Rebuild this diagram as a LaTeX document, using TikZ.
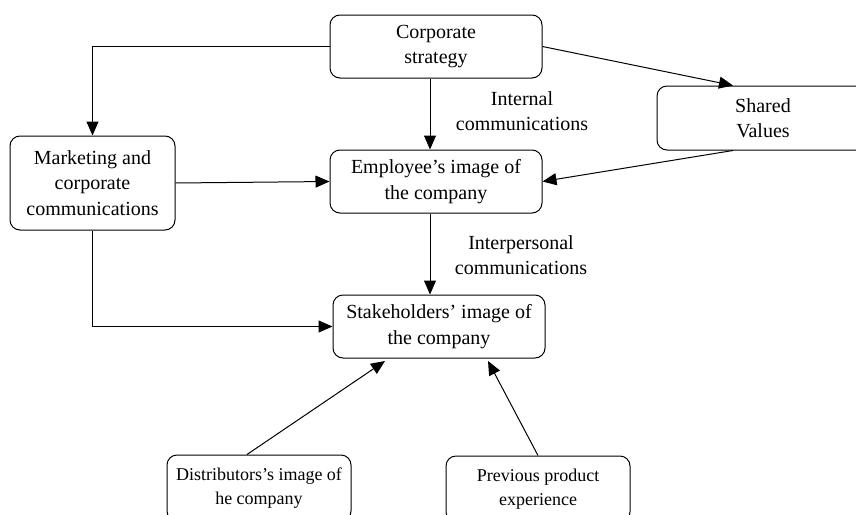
\documentclass[tikz,border=0pt]{standalone}
\usepackage{fontspec}
\setmainfont{Liberation Serif}
\usetikzlibrary{arrows.meta}
\begin{document}
\begin{tikzpicture}[x=1pt,y=-1pt,
  box/.style={draw, rounded corners=10pt, line width=1pt, align=center,
    font=\fontsize{20}{25.5}\selectfont, inner sep=0pt},
  smallbox/.style={box, font=\fontsize{18}{24}\selectfont},
  lbl/.style={align=center, font=\fontsize{20}{25.5}\selectfont},
  conn/.style={line width=1pt, -{Triangle[length=14pt,width=12pt]}}]
\useasboundingbox (0,0) rectangle (856,514);
% boxes
\node[box, minimum width=212pt, minimum height=63pt] (cs) at (436,46.5) {Corporate\\strategy};
\node[box, minimum width=212pt, minimum height=64pt] (sv) at (763,118) {Shared\\Values};
\node[box, minimum width=165pt, minimum height=94pt] (mc) at (92.5,183) {Marketing and\\corporate\\communications};
\node[box, minimum width=212pt, minimum height=63pt] (em) at (436,181.5) {Employee's image of\\the company};
\node[box, minimum width=212pt, minimum height=63pt] (st) at (439,326.5) {Stakeholders' image of\\the company};
\node[smallbox, minimum width=184pt, minimum height=66pt] (di) at (259,488) {Distributors's image of\\he company};
\node[smallbox, minimum width=184pt, minimum height=66pt] (pp) at (538,489) {Previous product\\experience};
% labels
\node[lbl] (lint) at (522,111) {Internal\\communications};
\node[lbl] (lipc) at (521,255) {Interpersonal\\communications};
% connectors
\draw[conn] (cs.west) -| (mc.north);
\draw[conn] (cs.south -| 430,0) -- (em.north -| 430,0);
\draw[conn] (cs.east) -- (sv.north -| 733,0);
\draw[conn] (sv.south -| 733,0) -- (em.east);
\draw[conn] (mc.east) -- (em.west);
\draw[conn] (mc.south) |- (st.west);
\draw[conn] (em.south -| 430,0) -- (st.north -| 430,0);
\coordinate (stA) at (385,361);
\coordinate (stB) at (488,361);
\draw[conn] (di.north -| 247,0) -- (stA);
\draw[conn] (pp.north -| 538,0) -- (stB);
\end{tikzpicture}
\end{document}
